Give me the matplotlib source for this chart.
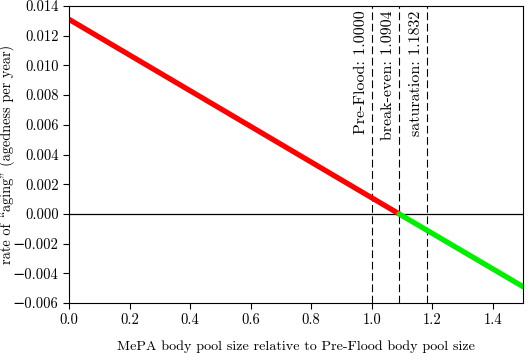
import matplotlib
matplotlib.use("Agg")
import matplotlib.pyplot as plt
import numpy as np

# datos
x_inicio = 0.0
x_fin = 1.5
tasa_inicial = 0.0131
pre_flood = 1.0000
break_even = 1.0904
saturation = 1.1832
tasa_final = -0.0049

marcas = [pre_flood, break_even, saturation]
etiquetas = ["Pre-Flood: 1.0000", "break-even: 1.0904", "saturation: 1.1832"]
xticks = [0.0, 0.2, 0.4, 0.6, 0.8, 1.0, 1.2, 1.4]
yticks = [-0.006, -0.004, -0.002, 0.000, 0.002, 0.004, 0.006, 0.008, 0.010, 0.012, 0.014]

plt.rcParams["font.family"] = ["cmr10", "DejaVu Serif"]
plt.rcParams["mathtext.fontset"] = "cm"
plt.rcParams["axes.formatter.use_mathtext"] = True
plt.rcParams["font.size"] = 10.5

fig = plt.figure(figsize=(5.30, 3.61), dpi=100)
ax = fig.add_axes([69 / 530, 58 / 361, 454 / 530, 297 / 361])

ax.plot([x_inicio, break_even], [tasa_inicial, 0.0], color="red", lw=3.8, solid_capstyle="round")
ax.plot([break_even, x_fin], [0.0, tasa_final], color="#00ee00", lw=3.8, solid_capstyle="round")
ax.axhline(0, color="black", lw=0.9, zorder=1)

for xm, txt in zip(marcas, etiquetas):
    ax.axvline(xm, color="black", lw=0.8, ls=(0, (7, 3.2)), zorder=1)
    ax.text(xm - 0.012, 0.0137, txt, rotation=90, ha="right", va="top", fontsize=11.5)

ax.set_xlim(0, 1.5)
ax.set_ylim(-0.006, 0.014)
ax.set_xticks(xticks)
ax.set_yticks(yticks)
ax.set_xticklabels([f"{v:.1f}" for v in xticks])
ax.set_yticklabels([f"{v:.3f}".replace("-", "\u2212") for v in yticks])
ax.tick_params(direction="out", length=4, width=0.8, top=False, right=False)
ax.set_xlabel("MePA body pool size relative to Pre-Flood body pool size", fontsize=10.2)
ax.xaxis.set_label_coords(0.5, -0.125)
# en cmr10 (codificación OT1) la barra invertida es la comilla de apertura
ax.set_ylabel("rate of \\aging\" (agedness per year)", fontsize=10.3)
ax.yaxis.set_label_coords(-0.12, 0.5)

fig.savefig("out.png", dpi=100)
